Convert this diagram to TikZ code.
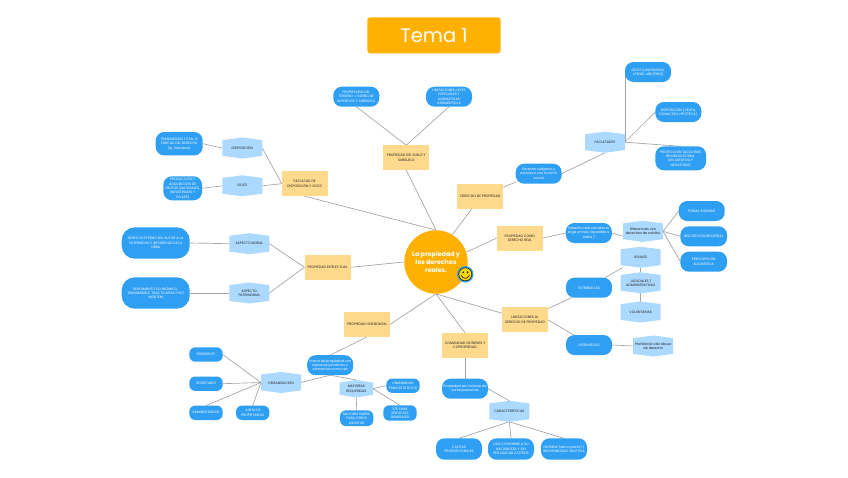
\documentclass[tikz,border=0pt]{standalone}
\usepackage{fontspec}
\setmainfont{Poppins}
\usetikzlibrary{backgrounds}
\definecolor{boxo}{HTML}{FFD98C}
\definecolor{pillb}{HTML}{2F9FF3}
\definecolor{hexb}{HTML}{ABD9FF}
\definecolor{mainor}{HTML}{FFB000}
\definecolor{linkg}{HTML}{A3A3A3}
\definecolor{inkd}{HTML}{1E1E1E}
\tikzset{
  base/.style={inner sep=0pt,outer sep=0pt,align=center,font=\fontsize{3.4}{4.3}\selectfont},
  obox/.style={base,fill=boxo,text=inkd,minimum width=46pt,minimum height=25pt},
  pill/.style={base,fill=pillb,text=white,minimum width=46pt,minimum height=20pt,rounded corners=8.5pt},
  pillw/.style 2 args={minimum width=#1pt,minimum height=#2pt},
  hexn/.style={base,text=inkd,minimum width=40pt,minimum height=21pt,
    path picture={\fill[hexb] (path picture bounding box.north)
      -- ([yshift=-2.6pt]path picture bounding box.north east)
      -- ([yshift=2.6pt]path picture bounding box.south east)
      -- (path picture bounding box.south)
      -- ([yshift=2.6pt]path picture bounding box.south west)
      -- ([yshift=-2.6pt]path picture bounding box.north west) -- cycle;}},
  link/.style={draw=linkg,line width=0.65pt},
}
\begin{document}
\begin{tikzpicture}[x=1pt,y=-1pt]
\useasboundingbox (0,0) rectangle (848,477);
\begin{pgfonlayer}{background}
\fill[white] (0,0) rectangle (848,477);
\end{pgfonlayer}
% title
\node[fill=mainor,text=white,rounded corners=3pt,minimum width=133.4pt,minimum height=36pt,inner sep=0pt,font=\fontsize{19.5}{24}\selectfont] (tema) at (434,35.3) {Tema 1};
% centre
\node[circle,fill=mainor,text=white,minimum size=63.4pt,inner sep=0pt,align=center,font=\fontsize{6.3}{8.2}\bfseries\selectfont] (root) at (436,262) {La propiedad y\\los derechos\\reales.};
% orange boxes
\node[obox] (fac) at (304.7,183.7) {FACULTAD DE\\DISPOSICIÓN Y GOCE};
\node[obox] (sue) at (406.3,157.7) {PROPIEDAD DEL SUELO Y\\SUBSUELO};
\node[obox] (der) at (480.3,196.5) {DERECHO DE PROPIEDAD};
\node[obox] (com) at (519.8,238) {PROPIEDAD COMO\\DERECHO REAL};
\node[obox] (lim) at (525,319.8) {LIMITACIONES AL\\DERECHO DE PROPIEDAD};
\node[obox] (cmb) at (465,345.3) {COMUNIDAD DE BIENES Y\\COPROPIEDAD};
\node[obox] (hor) at (367.3,324.3) {PROPIEDAD HORIZONTAL};
\node[obox] (int) at (327.5,267.3) {PROPIEDAD INTELECTUAL};
% hexagons
\node[hexn] (dis) at (242.3,148) {DISPOSICIÓN};
\node[hexn] (goc) at (242.3,185.8) {GOCE};
\node[hexn] (mor) at (249.3,243.7) {ASPECTO MORAL};
\node[hexn] (pat) at (249.3,293) {ASPECTO\\PATRIMONIAL};
\node[hexn] (org) at (281,382.5) {ORGANIZACIÓN};
\node[hexn,minimum width=33.4pt,minimum height=17.4pt] (may) at (356.3,388.7) {MAYORÍAS\\REQUERIDAS};
\node[hexn] (car) at (509.3,411.3) {CARACTERÍSTICAS};
\node[hexn] (pro) at (653.2,346) {Prohibición del abuso\\de derecho};
\node[hexn] (vol) at (640.7,312) {VOLUNTARIAS};
\node[hexn] (jud) at (640.7,282.8) {JUDICIALES /\\ADMINISTRATIVAS};
\node[hexn] (leg) at (640.7,257.2) {LEGALES};
\node[hexn] (dif) at (643,231.3) {Diferencias con\\derechos de crédito};
\node[hexn] (fts) at (605,142.2) {FACULTADES};
% pills
\node[pill,pillw={47}{23.4}] (tra) at (179.2,143.7) {TRANSMISIÓN TOTAL O\\PARCIAL DEL DERECHO\\(ej. hipoteca)};
\node[pill,pillw={38.7}{24}] (prd) at (182.7,188.3) {PRODUCCIÓN Y\\ADQUISICIÓN DE\\FRUTOS (NATURALES,\\INDUSTRIALES Y\\CIVILES)};
\node[pill,pillw={68}{31.4},rounded corners=13pt] (ete) at (155.7,243) {DERECHO ETERNO DEL AUTOR A LA\\PATERNIDAD E INTEGRIDAD DE LA\\OBRA};
\node[pill,pillw={68}{31.4},rounded corners=13pt] (ren) at (155.7,293) {RENDIMIENTO ECONÓMICO,\\TRANSMISIBLE. TRAS 70 AÑOS POST\\MORTEM};
\node[pill] (prp) at (356.3,96.7) {PROPIETARIO DEL\\TERRENO = DUEÑO DE\\SUPERFICIE Y SUBSUELO};
\node[pill] (ley) at (449,96.7) {LIMITACIONES: LEYES\\ESPECIALES Y\\NORMATIVAS\\URBANÍSTICAS};
\node[pill] (sub) at (538.7,173.7) {Derecho subjetivo y\\exclusivo con función\\social};
\node[pill] (gou) at (648,72) {GOCE (USUFRUENDI,\\UTENDI, ABUTENDI)};
\node[pill] (dvh) at (678.3,112) {DISPOSICIÓN (VENTA,\\DONACIÓN, HIPOTECA)};
\node[pill,pillw={50.7}{24}] (ptc) at (680.7,158.3) {PROTECCIÓN (ACCIONES\\REIVINDICATORIA,\\DECLARATIVA Y\\NEGATORIA)};
\node[pill] (rea) at (588.8,233) {Derecho real con efecto\\erga omnes (oponible a\\todos )};
\node[pill] (sol) at (701.7,211) {FORMA SOLEMNE};
\node[pill,pillw={46.7}{20}] (ins) at (703.7,236.3) {INSCRIPCIÓN REGISTRAL};
\node[pill,pillw={46.7}{20}] (pre) at (703.7,261.7) {PRESCRIPCIÓN\\ADQUISITIVA};
\node[pill] (ext) at (589,287.7) {EXTRÍNSECAS};
\node[pill] (itr) at (589,345) {INTRÍNSECAS};
\node[pill] (ind) at (465,388.7) {Propiedad pro indiviso de\\varias personas};
\node[pill,pillw={46}{21.4}] (cuo) at (459,449) {CUOTAS\\PROPORCIONALES};
\node[pill,pillw={46}{21.4}] (uso) at (511,449) {USO CONFORME A SU\\NATURALEZA Y SIN\\PERJUDICAR A OTROS};
\node[pill,pillw={46}{21.4}] (dvs) at (564,449) {DIVISIBLE (salvo pacto) /\\INDIVISIBILIDAD OBJETIVA};
\node[pill] (frm) at (330.2,365.2) {Forma de propiedad con\\espacios privativos y\\elementos comunes};
\node[pill,pillw={33.4}{14.4},rounded corners=6pt] (pdt) at (206,354.5) {PRESIDENTE};
\node[pill,pillw={33.4}{14.4},rounded corners=6pt] (sec) at (206,383.7) {SECRETARIO};
\node[pill,pillw={33.4}{14.4},rounded corners=6pt] (adm) at (206,412.8) {ADMINISTRADOR};
\node[pill,pillw={33.4}{14.4},rounded corners=6pt] (jun) at (252.7,412.8) {JUNTA DE\\PROPIETARIOS};
\node[pill,pillw={33.4}{14.4},rounded corners=6pt] (una) at (403,385.7) {UNANIMIDAD\\PARA ESTATUTOS};
\node[pill,pillw={33.4}{15.4},rounded corners=6pt] (tre) at (400,413) {3/5 PARA\\SERVICIOS\\GENERALES};
\node[pill,pillw={33.4}{15.8},rounded corners=6pt] (mas) at (356.7,418.2) {MAYORÍA SIMPLE\\PARA OTROS\\ASUNTOS};
% connectors
\begin{pgfonlayer}{background}
\draw[link] (fac.south) -- (root.north);
\draw[link] (sue.south) -- (root.north);
\draw[link] (der.235.5) -- (root.59);
\draw[link] (com.west) -- (root.18);
\draw[link] (lim.164) -- (root.south);
\draw[link] (cmb.north) -- (root.south);
\draw[link] (hor.east) -- (root.south);
\draw[link] (int.east) -- (root.west);
\draw[link] (dis.east) -- (fac.west);
\draw[link] (goc.east) -- (fac.west);
\draw[link] (tra.east) -- (dis.west);
\draw[link] (prd.east) -- (goc.west);
\draw[link] (mor.east) -- (int.west);
\draw[link] (pat.east) -- (int.west);
\draw[link] (ete.east) -- (mor.west);
\draw[link] (ren.east) -- (pat.west);
\draw[link] (prp.south) -- (sue.north);
\draw[link] (ley.south) -- (sue.north);
\draw[link] (der.22) -- (sub.200);
\draw[link] (sub.east) -- (fts.south);
\draw[link] (fts.east) -- (gou.west);
\draw[link] (fts.east) -- (dvh.west);
\draw[link] (fts.east) -- (ptc.north);
\draw[link] (com.east) -- (rea.west);
\draw[link] (rea.east) -- (dif.south);
\draw[link] (dif.east) -- (sol.west);
\draw[link] (dif.east) -- (ins.west);
\draw[link] (dif.east) -- (pre.west);
\draw[link] (lim.26.6) -- (ext.210);
\draw[link] (lim.east) -- (itr.147.5);
\draw[link] (ext.32) -- (leg.210);
\draw[link] (leg.south) -- (jud.north);
\draw[link] (jud.south) -- (vol.north);
\draw[link] (itr.east) -- (pro.west);
\draw[link] (cmb.south) -- (ind.north);
\draw[link] (ind.east) -- (car.north);
\draw[link] (car.south) -- (cuo.north);
\draw[link] (car.south) -- (uso.north);
\draw[link] (car.south) -- (dvs.north);
\draw[link] (hor.south) -- (frm.north);
\draw[link] (frm.south) -- (org.east);
\draw[link] (frm.south) -- (may.north);
\draw[link] (org.west) -- (pdt.east);
\draw[link] (org.west) -- (sec.east);
\draw[link] (org.west) -- (adm.north);
\draw[link] (org.west) -- (jun.north);
\draw[link] (may.east) -- (una.west);
\draw[link] (may.east) -- (tre.north);
\draw[link] (may.south) -- (mas.north);
\end{pgfonlayer}
% smiley
\fill[pillb] (465.3,274.3) circle (8.2pt);
\fill[black!85] (465.3,274.3) circle (6.9pt);
\fill[yellow!75!orange] (465.3,274.3) circle (6.1pt);
\fill[black!85] (463.1,272.3) ellipse (0.8pt and 1.2pt);
\fill[black!85] (467.5,272.3) ellipse (0.8pt and 1.2pt);
\draw[black!85,line width=0.7pt,line cap=round] (461.3,275.5) .. controls (463,279.3) and (467.6,279.3) .. (469.3,275.5);
\end{tikzpicture}
\end{document}
